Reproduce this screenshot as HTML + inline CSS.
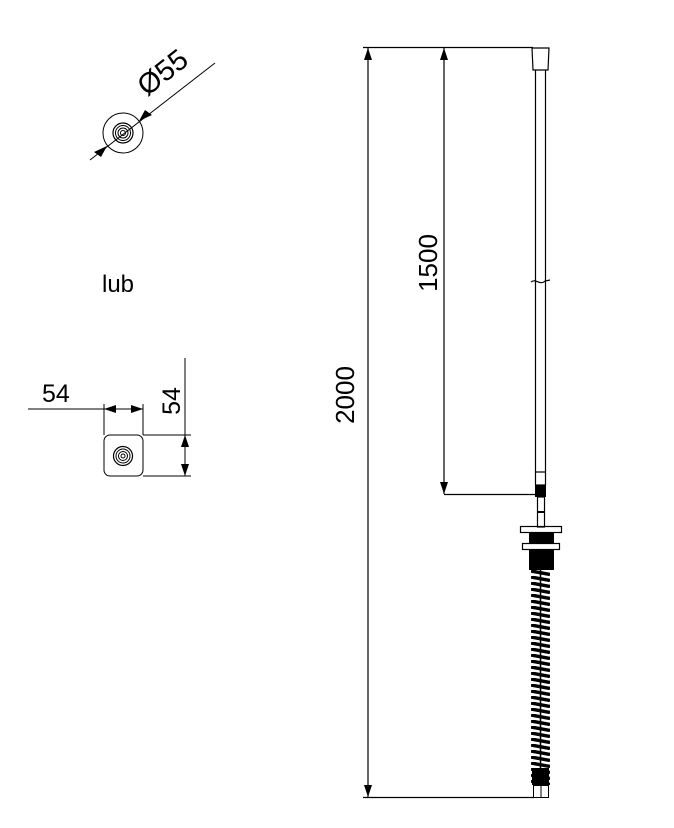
<!DOCTYPE html>
<html><head><meta charset="utf-8"><style>
html,body{margin:0;padding:0;background:#fff}
svg{display:block}
text{font-family:"Liberation Sans",sans-serif;fill:#000}
</style></head><body>
<svg width="674" height="828" viewBox="0 0 674 828" xmlns="http://www.w3.org/2000/svg">
<defs>
<pattern id="spr" x="531" y="570" width="19" height="6" patternUnits="userSpaceOnUse">
<path d="M0 1 L19 4.5" stroke="#000" stroke-width="3.4"/>
</pattern>
</defs>
<g stroke="#000" fill="none" stroke-width="1">
<circle cx="123" cy="133" r="20"/>
<circle cx="123" cy="133" r="10" stroke-width="1.2"/>
<circle cx="123" cy="133" r="7.5"/>
<circle cx="123" cy="133" r="5"/>
<circle cx="123" cy="133" r="2.5"/>
<line x1="90" y1="160" x2="215" y2="63"/>
</g>
<polygon points="139,121 152,115 145,110" fill="#000"/>
<polygon points="107,146 94,152 101,157" fill="#000"/>
<text x="0" y="0" font-size="29" transform="translate(147,97) rotate(-38)">Ø55</text>
<text x="102" y="292" font-size="24">lub</text>
<g stroke="#000" fill="none" stroke-width="1">
<rect x="104" y="435" width="39" height="41" rx="6"/>
<circle cx="123" cy="456" r="9.5" stroke-width="1.2"/>
<circle cx="123" cy="456" r="7"/>
<circle cx="123" cy="456" r="4.5"/>
<circle cx="123" cy="456" r="2"/>
<line x1="28" y1="409" x2="143" y2="409"/>
<line x1="104" y1="404" x2="104" y2="435"/>
<line x1="143" y1="404" x2="143" y2="435"/>
<line x1="185" y1="358" x2="185" y2="476"/>
<line x1="143" y1="435" x2="191" y2="435"/>
<line x1="143" y1="476" x2="191" y2="476"/>
</g>
<polygon points="104,409 116,405 116,413" fill="#000"/>
<polygon points="143,409 131,405 131,413" fill="#000"/>
<polygon points="185,435 181,447 189,447" fill="#000"/>
<polygon points="185,476 181,464 189,464" fill="#000"/>
<text x="42" y="402" font-size="25">54</text>
<text x="0" y="0" font-size="25" transform="translate(180,401) rotate(-90)" text-anchor="middle">54</text>
<g stroke="#000" fill="none" stroke-width="1.2">
<line x1="363" y1="47.5" x2="533" y2="47.5"/>
<line x1="363" y1="797.5" x2="534" y2="797.5"/>
<line x1="368" y1="47" x2="368" y2="797"/>
<line x1="444" y1="47" x2="444" y2="494"/>
<line x1="444" y1="494.5" x2="536" y2="494.5"/>
</g>
<polygon points="368,48 364,60 372,60" fill="#000"/>
<polygon points="368,797 364,785 372,785" fill="#000"/>
<polygon points="444,48 440,60 448,60" fill="#000"/>
<polygon points="444,494 440,482 448,482" fill="#000"/>
<text x="0" y="0" font-size="26" transform="translate(354,395) rotate(-90)" text-anchor="middle">2000</text>
<text x="0" y="0" font-size="26" transform="translate(437,263) rotate(-90)" text-anchor="middle">1500</text>
<g stroke="#000" fill="none" stroke-width="1.2">
<polygon points="532,48 549,48 548,70 533,70"/>
<line x1="535.5" y1="70" x2="535.5" y2="472"/>
<line x1="545.5" y1="70" x2="545.5" y2="472"/>
<path d="M531 282 C536 278 540 286 545 281 L550 280"/>
<rect x="535.5" y="472" width="10" height="13"/>
<rect x="537.5" y="497" width="7" height="30"/>
<line x1="537" y1="512" x2="545" y2="512" stroke-width="2"/>
<rect x="520.5" y="526.5" width="41" height="6"/>
<rect x="522.5" y="543.5" width="37" height="6"/>
</g>
<rect x="535" y="485" width="11" height="12" fill="#000"/>
<rect x="529" y="533" width="25" height="10" fill="#000"/>
<rect x="529" y="550" width="25" height="20" fill="#000"/>
<rect x="531" y="570" width="19" height="215" fill="url(#spr)"/>
<line x1="540.5" y1="570" x2="540.5" y2="785" stroke="#000" stroke-width="1.5"/>
<rect x="532" y="768" width="17" height="17" fill="#000"/>
<g stroke="#000" fill="none" stroke-width="1">
<rect x="533.5" y="785.5" width="15" height="12"/>
<line x1="541" y1="785" x2="541" y2="797"/>
</g>
</svg>
</body></html>
